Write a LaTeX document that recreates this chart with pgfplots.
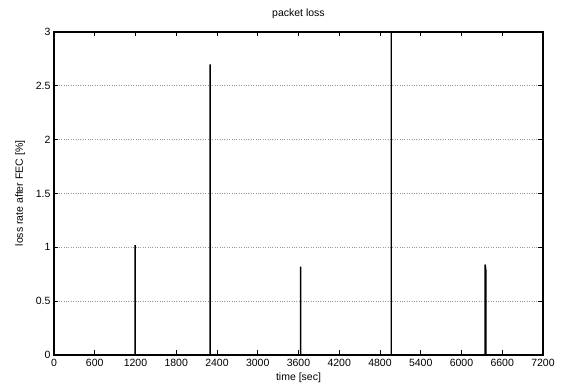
\documentclass[border=0pt]{standalone}
\usepackage{pgfplots}
\pgfplotsset{compat=1.18}
\usepackage{fontspec}
\setmainfont{Liberation Sans}
\begin{document}
\begin{tikzpicture}
\begin{axis}[
  at={(0pt,0pt)}, anchor=south west,
  scale only axis,
  width=489pt, height=323pt,
  xmin=0, xmax=7200, ymin=0, ymax=3,
  xtick={0,600,...,7200},
  ytick={0,0.5,1,1.5,2,2.5,3},
  yticklabels={0,0.5,1,1.5,2,2.5,3},
  xticklabels={0,600,1200,1800,2400,3000,3600,4200,4800,5400,6000,6600,7200},
  scaled x ticks=false,
  tick align=inside,
  major tick length=4.5pt,
  tick style={black, line width=0.9pt},
  axis line style={black, line width=1.3pt},
  ymajorgrids,
  major grid style={gray!80, dotted, line width=0.8pt},
  tick label style={font=\fontsize{10.5}{12}\selectfont},
  xticklabel style={yshift=-1pt},
  title={packet loss},
  title style={font=\fontsize{10.5}{12}\selectfont, yshift=4pt},
  xlabel={time [sec]},
  ylabel={loss rate after FEC [\%]},
  label style={font=\fontsize{10.5}{12}\selectfont},
  xlabel style={yshift=1pt},
  ylabel style={yshift=4pt},
  clip=true,
]
\addplot[black, line width=1.4pt, line join=bevel, line cap=butt] coordinates {
 (0,0) (1195,0) (1195,1.02) (1196,0)
 (2299,0) (2299,2.70) (2300,0)
 (3632,0) (3632,0.82) (3633,0)
 (4965,0) (4965,3.6) (4966,0)
 (6349,0) (6349,0.84) (6358,0.79) (6358,0)
 (7200,0)
};
\end{axis}
\path (-54pt,-32pt) rectangle (512pt,355pt);
\end{tikzpicture}
\end{document}
